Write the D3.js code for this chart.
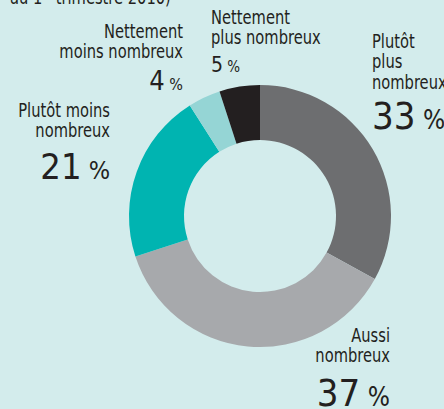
<!DOCTYPE html>
<html>
<head>
<meta charset="utf-8">
<script src="https://cdn.jsdelivr.net/npm/d3@7"></script>
<style>
  body { margin: 0; background: #d3ecec; }
  svg { display: block; }
  text { font-family: "DejaVu Sans Condensed", "DejaVu Sans", sans-serif; fill: #231f20; }
</style>
</head>
<body>
<script>
// data, clockwise from 12 o'clock
const categories = ['Plutôt plus nombreux', 'Aussi nombreux', 'Plutôt moins nombreux', 'Nettement moins nombreux', 'Nettement plus nombreux']
const shares = [33, 37, 21, 4, 5]
const colors = ['#6d6e70', '#a7a9ac', '#00b4b1', '#95d5d5', '#231f20']

const width = 444
const height = 409
const cx = 260
const cy = 216
const outerR = 131
const innerR = 76
const squeeze = 0.86 // the original face is narrower than DejaVu Condensed

const svg = d3.select('body').append('svg')
    .attr('width', width)
    .attr('height', height)

svg.append('rect')
    .attr('width', width)
    .attr('height', height)
    .attr('fill', '#d3ecec')

// clipped title line
const title = svg.append('g')
    .attr('transform', `translate(10, 4) scale(${squeeze}, 1)`)
    .append('text')
    .style('font-size', '19px')
title.append('tspan').text('au 1')
title.append('tspan').attr('dy', -7).style('font-size', '11px').text('er')
title.append('tspan').attr('dy', 7).text(' trimestre 2010)')

const pie = d3.pie().sort(null).value((d) => d)
const arc = d3.arc().innerRadius(innerR).outerRadius(outerR)

const g = svg.append('g')
    .attr('transform', `translate(${cx}, ${cy})`)

g.selectAll('path')
  .data(pie(shares))
  .enter().append('path')
    .attr('d', arc)
    .attr('fill', (d, i) => colors[i])

// label layout: lines of text, anchor, and number sizes
const labelLayout = [
  {lines: ['Plutôt', 'plus', 'nombreux'], x: 372, y: 48, anchor: 'start', num: 38, pct: 26, numY: 129},
  {lines: ['Aussi', 'nombreux'], x: 390, y: 342, anchor: 'end', num: 38, pct: 26, numY: 406},
  {lines: ['Plutôt moins', 'nombreux'], x: 110, y: 117, anchor: 'end', num: 36, pct: 25, numY: 179},
  {lines: ['Nettement', 'moins nombreux'], x: 183, y: 38, anchor: 'end', num: 27, pct: 16, numY: 90},
  {lines: ['Nettement', 'plus nombreux'], x: 211, y: 24, anchor: 'start', num: 21, pct: 15, numY: 72}
]

labelLayout.forEach((l, i) => {
  const t = svg.append('g')
      .attr('transform', `translate(${l.x}, ${l.y}) scale(${squeeze}, 1)`)
      .append('text')
      .attr('text-anchor', l.anchor)
      .style('font-size', '19px')
  l.lines.forEach((line, j) => {
    t.append('tspan')
        .attr('x', 0)
        .attr('y', j * 20.5)
        .text(line)
  })
  const n = svg.append('text')
      .attr('x', l.x)
      .attr('y', l.numY)
      .attr('text-anchor', l.anchor)
  n.append('tspan')
      .style('font-size', `${l.num}px`)
      .text(shares[i])
  n.append('tspan')
      .style('font-size', `${l.pct}px`)
      .text(' %')
})
</script>
</body>
</html>
